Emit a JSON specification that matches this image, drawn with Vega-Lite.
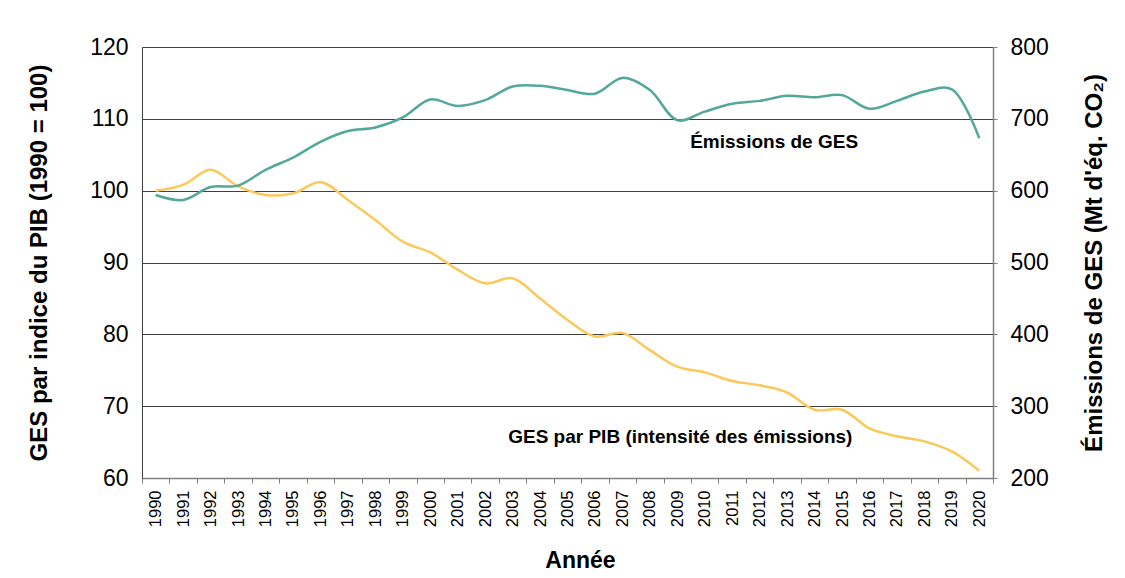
{
  "$schema": "https://vega.github.io/schema/vega-lite/v6.json",
  "width": 851,
  "height": 431,
  "autosize": {"type": "none"},
  "padding": {"left": 142, "top": 47, "right": 132, "bottom": 100},
  "background": "white",
  "config": {"font": "Liberation Sans", "view": {"stroke": null}},
  "data": {"values": [
    {"year": "1990", "ges": 594, "intensite": 100.0},
    {"year": "1991", "ges": 587, "intensite": 100.8},
    {"year": "1992", "ges": 605, "intensite": 102.9},
    {"year": "1993", "ges": 607, "intensite": 100.6},
    {"year": "1994", "ges": 629, "intensite": 99.4},
    {"year": "1995", "ges": 646, "intensite": 99.6},
    {"year": "1996", "ges": 668, "intensite": 101.2},
    {"year": "1997", "ges": 683, "intensite": 98.7},
    {"year": "1998", "ges": 688, "intensite": 95.9},
    {"year": "1999", "ges": 702, "intensite": 92.9},
    {"year": "2000", "ges": 727, "intensite": 91.4},
    {"year": "2001", "ges": 718, "intensite": 89.0},
    {"year": "2002", "ges": 726, "intensite": 87.1},
    {"year": "2003", "ges": 745, "intensite": 87.8},
    {"year": "2004", "ges": 746, "intensite": 85.0},
    {"year": "2005", "ges": 740, "intensite": 82.0},
    {"year": "2006", "ges": 735, "intensite": 79.7},
    {"year": "2007", "ges": 757, "intensite": 80.2},
    {"year": "2008", "ges": 740, "intensite": 77.8},
    {"year": "2009", "ges": 698, "intensite": 75.5},
    {"year": "2010", "ges": 710, "intensite": 74.7},
    {"year": "2011", "ges": 721, "intensite": 73.5},
    {"year": "2012", "ges": 725, "intensite": 72.9},
    {"year": "2013", "ges": 732, "intensite": 71.9},
    {"year": "2014", "ges": 730, "intensite": 69.5},
    {"year": "2015", "ges": 733, "intensite": 69.5},
    {"year": "2016", "ges": 714, "intensite": 66.9},
    {"year": "2017", "ges": 725, "intensite": 65.8},
    {"year": "2018", "ges": 738, "intensite": 65.1},
    {"year": "2019", "ges": 741, "intensite": 63.7},
    {"year": "2020", "ges": 673, "intensite": 61.0}
  ]},
  "encoding": {
    "x": {
      "field": "year",
      "type": "ordinal",
      "scale": {"type": "band", "paddingInner": 0, "paddingOuter": 0},
      "axis": {
        "title": "Année",
        "titleFontSize": 23,
        "titleFontWeight": "bold",
        "titleColor": "black",
        "titleX": 438,
        "titleY": 82,
        "titleBaseline": "middle",
        "titleAlign": "center",
        "labelAngle": -90,
        "labelFontSize": 16.5,
        "labelColor": "black",
        "labelPadding": 7,
        "tickSize": 5,
        "tickBand": "extent",
        "tickColor": "#808080",
        "domainColor": "#808080",
        "domainWidth": 1.5,
        "grid": false
      }
    }
  },
  "layer": [
    {
      "layer": [
        {
          "mark": {"type": "line", "color": "#fbc85a", "strokeWidth": 2.5, "interpolate": "catmull-rom"},
          "encoding": {
            "y": {
              "field": "intensite",
              "type": "quantitative",
              "scale": {"domain": [60, 120], "nice": false, "zero": false},
              "axis": {
                "title": "GES par indice du PIB (1990 = 100)",
                "values": [60, 70, 80, 90, 100, 110, 120],
                "grid": true,
                "gridColor": "#404040",
                "gridWidth": 1,
                "tickSize": 0,
                "labelPadding": 14,
                "labelFontSize": 23,
                "labelColor": "black",
                "domainColor": "#404040",
                "titleFontSize": 24,
                "titleFontWeight": "bold",
                "titleColor": "black",
                "titleX": -103,
                "titleY": 215.5,
                "titleAngle": -90,
                "titleAlign": "center",
                "titleBaseline": "middle"
              }
            }
          }
        },
        {
          "data": {"values": [
            {"year": "2013", "v": 106.8, "label": "Émissions de GES"}
          ]},
          "mark": {"type": "text", "fontSize": 19, "fontWeight": "bold", "color": "black", "align": "center", "baseline": "middle", "dx": -13},
          "encoding": {
            "y": {"field": "v", "type": "quantitative"},
            "text": {"field": "label"}
          }
        },
        {
          "data": {"values": [
            {"year": "2009", "v": 65.7, "label": "GES par PIB (intensité des émissions)"}
          ]},
          "mark": {"type": "text", "fontSize": 19, "fontWeight": "bold", "color": "black", "align": "center", "baseline": "middle", "dx": 3},
          "encoding": {
            "y": {"field": "v", "type": "quantitative"},
            "text": {"field": "label"}
          }
        }
      ]
    },
    {
      "mark": {"type": "line", "color": "#52a89b", "strokeWidth": 2.5, "interpolate": "catmull-rom"},
      "encoding": {
        "y": {
          "field": "ges",
          "type": "quantitative",
          "scale": {"domain": [200, 800], "nice": false, "zero": false},
          "axis": {
            "orient": "right",
            "title": "Émissions de GES (Mt d'éq. CO₂)",
            "values": [200, 300, 400, 500, 600, 700, 800],
            "grid": false,
            "tickSize": 4,
            "tickColor": "#808080",
            "domainColor": "#808080",
            "domainWidth": 1.5,
            "labelPadding": 13,
            "labelFontSize": 23,
            "labelColor": "black",
            "titleFontSize": 24,
            "titleFontWeight": "bold",
            "titleColor": "black",
            "titleX": 101,
            "titleY": 215.5,
            "titleAngle": -90,
            "titleAlign": "center",
            "titleBaseline": "middle"
          }
        }
      }
    }
  ],
  "resolve": {"scale": {"y": "independent"}}
}
